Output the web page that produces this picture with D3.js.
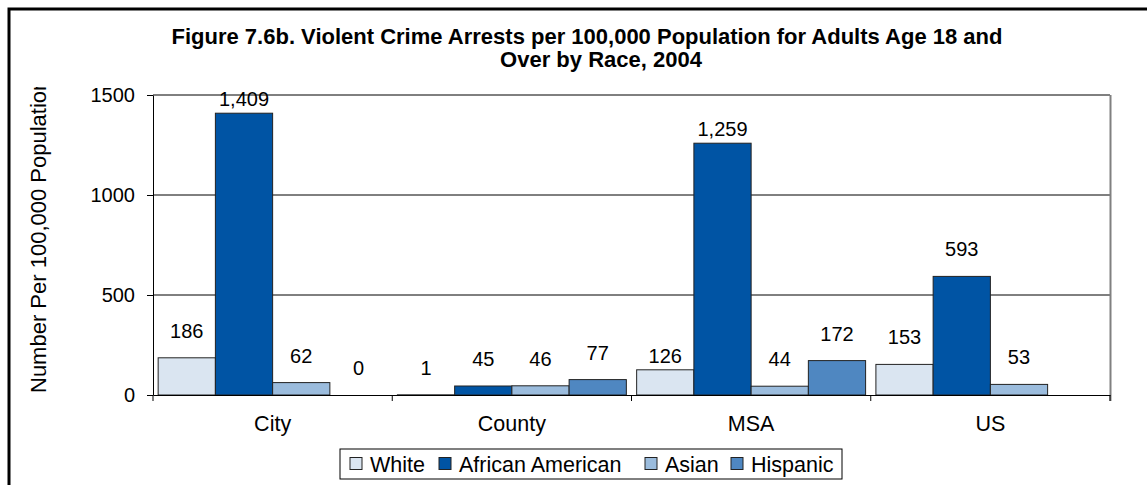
<!DOCTYPE html>
<html>
<head>
<meta charset="utf-8">
<script src="https://cdn.jsdelivr.net/npm/d3@7"></script>
<style>
  html, body { margin: 0; padding: 0; background: #fff; }
  svg { display: block; font-family: "Liberation Sans", Arial, sans-serif; }
</style>
</head>
<body>
<svg id="chart" width="1147" height="485"></svg>
<script>
// ---------- data ----------
const categories = ["City", "County", "MSA", "US"];
const seriesNames = ["White", "African American", "Asian", "Hispanic"];
const whiteValues = [186, 1, 126, 153];
const africanAmericanValues = [1409, 45, 1259, 593];
const asianValues = [62, 46, 44, 53];
const hispanicValues = [0, 77, 172, null];
const yTicks = [0, 500, 1000, 1500];
const titleLines = [
  "Figure 7.6b. Violent Crime Arrests per 100,000 Population for Adults Age 18 and",
  "Over by Race, 2004"
];
const yAxisTitle = "Number Per 100,000 Population";

// ---------- styling / layout ----------
const colors = ["#DAE5F1", "#0054A4", "#9BBCDD", "#4F87C1"];
const seriesValues = [whiteValues, africanAmericanValues, asianValues, hispanicValues];
const W = 1147, H = 485;
const plot = { left: 153, right: 1110, top: 95, bottom: 395 };

const svg = d3.select("#chart");

// outer border
svg.append("rect")
  .attr("x", 9).attr("y", 9)
  .attr("width", W + 20).attr("height", H + 20)
  .attr("fill", "none").attr("stroke", "#000").attr("stroke-width", 3);

// title
const titleCenters = [587, 601];
const titleBaselines = [44, 67];
titleLines.forEach((t, i) => {
  svg.append("text")
    .attr("x", titleCenters[i]).attr("y", titleBaselines[i])
    .attr("text-anchor", "middle")
    .attr("font-size", 22).attr("font-weight", "bold")
    .text(t);
});

// scales
const x0 = d3.scaleBand().domain(categories).range([plot.left, plot.right]).padding(0);
const x1 = d3.scaleBand().domain(seriesNames).range([0, x0.bandwidth()])
  .paddingInner(0).paddingOuter(0.09);
const y = d3.scaleLinear().domain([0, 1500]).range([plot.bottom, plot.top]);

// gridlines
svg.append("g").selectAll("line").data(yTicks.filter(d => d > 0)).join("line")
  .attr("x1", plot.left).attr("x2", plot.right)
  .attr("y1", d => y(d)).attr("y2", d => y(d))
  .attr("stroke", "#000").attr("stroke-width", 1);

// right border of plot
svg.append("line")
  .attr("x1", plot.right + 0.5).attr("x2", plot.right + 0.5)
  .attr("y1", plot.top).attr("y2", plot.bottom + 6)
  .attr("stroke", "#808080").attr("stroke-width", 2);

// bars
const barData = [];
categories.forEach((c, ci) => {
  seriesNames.forEach((s, si) => {
    const v = seriesValues[si][ci];
    if (v !== null && v !== undefined) barData.push({ c, s, si, v });
  });
});

svg.append("g").selectAll("rect").data(barData).join("rect")
  .attr("x", d => x0(d.c) + x1(d.s))
  .attr("width", x1.bandwidth())
  .attr("y", d => y(d.v))
  .attr("height", d => y(0) - y(d.v))
  .attr("fill", d => colors[d.si])
  .attr("stroke", "#222").attr("stroke-width", 1);

// data labels
const closeLabels = new Set(["City|African American", "MSA|White", "MSA|African American"]);
svg.append("g").selectAll("text").data(barData).join("text")
  .attr("x", d => x0(d.c) + x1(d.s) + x1.bandwidth() / 2)
  .attr("y", d => y(d.v) - (closeLabels.has(d.c + "|" + d.s) ? 14 : 27))
  .attr("dy", "0.35em")
  .attr("text-anchor", "middle")
  .attr("font-size", 20)
  .text(d => d3.format(",")(d.v));

// y axis
const yAxis = svg.append("g")
  .attr("transform", `translate(${plot.left},0)`)
  .call(d3.axisLeft(y).tickValues(yTicks).tickSize(6).tickSizeOuter(0).tickPadding(12).tickFormat(d3.format("d")));
yAxis.select(".domain").attr("stroke", "#000");
yAxis.selectAll(".tick line").attr("stroke", "#000");
yAxis.selectAll(".tick text").attr("font-size", 20).attr("font-family", "Liberation Sans, Arial, sans-serif").attr("fill", "#000");

// x axis
const xAxis = svg.append("g")
  .attr("transform", `translate(0,${plot.bottom})`)
  .call(d3.axisBottom(x0).tickSize(0).tickSizeOuter(0).tickPadding(21));
xAxis.select(".domain").attr("stroke", "#000");
xAxis.selectAll(".tick text").attr("font-size", 21.5).attr("font-family", "Liberation Sans, Arial, sans-serif").attr("fill", "#000");
// category separator ticks
svg.append("g").selectAll("line")
  .data(categories.map(c => x0(c)).concat([plot.right]))
  .join("line")
  .attr("x1", d => d).attr("x2", d => d)
  .attr("y1", plot.bottom).attr("y2", plot.bottom + 6)
  .attr("stroke", "#000");

// y axis title (clipped at top like the original)
svg.append("defs").append("clipPath").attr("id", "ylabclip")
  .append("rect").attr("x", 0).attr("y", 87).attr("width", 120).attr("height", 400);
svg.append("g").attr("clip-path", "url(#ylabclip)")
  .append("text")
  .attr("transform", "translate(46,393) rotate(-90)")
  .attr("font-size", 22)
  .text(yAxisTitle);

// legend
const legend = svg.append("g");
legend.append("rect")
  .attr("x", 340).attr("y", 449).attr("width", 502).attr("height", 30)
  .attr("fill", "#fff").attr("stroke", "#000").attr("stroke-width", 1);
const legendSwatchX = [350, 439, 645, 731];
seriesNames.forEach((s, i) => {
  legend.append("rect")
    .attr("x", legendSwatchX[i]).attr("y", 457.5).attr("width", 12).attr("height", 12)
    .attr("fill", colors[i]).attr("stroke", "#222").attr("stroke-width", 1);
  legend.append("text")
    .attr("x", legendSwatchX[i] + 20).attr("y", 471.5)
    .attr("font-size", 21.5)
    .text(s);
});
</script>
</body>
</html>
